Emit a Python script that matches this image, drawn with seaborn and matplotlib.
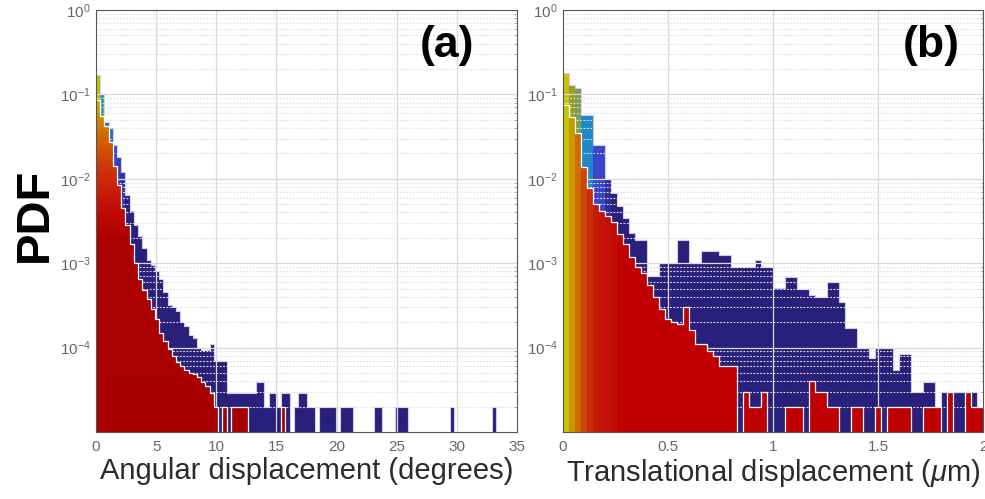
import numpy as np
import pandas as pd
import matplotlib
matplotlib.use("Agg")
import matplotlib.pyplot as plt
from matplotlib.colors import LinearSegmentedColormap, LogNorm
from matplotlib.ticker import LogLocator, NullFormatter
import seaborn as sns

# ---------------------------------------------------------------------------
# Binned PDFs (values are PDF heights per bin)
# ---------------------------------------------------------------------------
# (a) angular displacement, 100 bins on [0, 35] degrees
ang_range = (0.0, 35.0)
ang_nbins = 100
ang_all = [
    0.17, 0.10, 0.047, 0.040, 0.025, 0.018, 0.012, 0.0064, 0.0042, 0.0028,
    0.0021, 0.0015, 0.0011, 9.5e-4, 8.0e-4, 6.5e-4, 4.6e-4, 3.2e-4, 3.0e-4, 2.7e-4,
    2.0e-4, 1.8e-4, 1.4e-4, 1.3e-4, 1.0e-4, 9.3e-5, 9.3e-5, 1.1e-4, 7.0e-5, 7.0e-5,
    7.0e-5, 2.9e-5, 2.9e-5, 2.9e-5, 2.9e-5, 2.9e-5, 2.9e-5, 2.9e-5, 3.9e-5, 3.9e-5,
    2.0e-5, 2.9e-5, 2.9e-5, 2.0e-5, 2.9e-5, 2.9e-5, 0, 2.0e-5, 2.9e-5, 2.9e-5,
    2.0e-5, 2.0e-5, 0, 2.0e-5, 2.0e-5, 2.0e-5, 2.0e-5, 0, 2.0e-5, 2.0e-5,
    2.0e-5, 0, 0, 0, 0, 0, 2.0e-5, 2.0e-5, 0, 0,
    0, 2.0e-5, 2.0e-5, 2.0e-5, 0, 0, 0, 0, 0, 0,
    0, 0, 0, 0, 2.0e-5, 0, 0, 0, 0, 0,
    0, 0, 0, 0, 2.0e-5, 0, 0, 0, 0, 0,
]
ang_sub = [
    0.085, 0.055, 0.042, 0.027, 0.014, 0.0085, 0.0045, 0.0028, 0.0017, 0.0010,
    6.5e-4, 4.8e-4, 3.8e-4, 2.9e-4, 2.2e-4, 1.5e-4, 1.2e-4, 9.5e-5, 8.0e-5, 6.8e-5,
    6.0e-5, 5.5e-5, 5.0e-5, 4.9e-5, 4.5e-5, 3.9e-5, 3.5e-5, 2.9e-5, 2.0e-5, 0,
    2.0e-5, 0, 2.0e-5, 2.0e-5, 2.0e-5, 2.0e-5, 0, 0, 0, 0,
    0, 0, 0, 0, 2.0e-5, 0, 0, 0, 0, 0,
    0, 0, 0, 0, 0, 0, 0, 0, 0, 0,
    0, 0, 0, 0, 0, 0, 0, 0, 0, 0,
    0, 0, 0, 0, 0, 0, 0, 0, 0, 0,
    0, 0, 0, 0, 0, 0, 0, 0, 0, 0,
    0, 0, 0, 0, 0, 0, 0, 0, 0, 0,
]

# (b) translational displacement, 70 bins on [0, 2] micrometres
tr_range = (0.0, 2.0)
tr_nbins = 70
tr_all = [
    0.18, 0.13, 0.12, 0.057, 0.057, 0.025, 0.025, 0.0100, 0.0068, 0.0048,
    0.0034, 0.0023, 0.0019, 0.0019, 7.0e-4, 7.0e-4, 1.0e-3, 1.0e-3, 1.0e-3, 1.9e-3,
    1.9e-3, 1.0e-3, 1.0e-3, 1.4e-3, 1.4e-3, 1.4e-3, 1.25e-3, 1.25e-3, 9.0e-4, 9.0e-4,
    9.0e-4, 9.0e-4, 1.1e-3, 9.0e-4, 9.0e-4, 5.1e-4, 5.1e-4, 6.9e-4, 6.9e-4, 5.0e-4,
    5.0e-4, 4.2e-4, 4.0e-4, 4.0e-4, 6.0e-4, 6.0e-4, 3.5e-4, 1.7e-4, 1.7e-4, 1.0e-4,
    1.0e-4, 7.5e-5, 1.0e-4, 1.0e-4, 1.0e-4, 5.5e-5, 8.5e-5, 8.5e-5, 3.0e-5, 3.0e-5,
    3.9e-5, 3.9e-5, 2.0e-5, 3.0e-5, 3.0e-5, 3.0e-5, 3.0e-5, 3.0e-5, 3.0e-5, 2.0e-5,
]
tr_sub = [
    0.075, 0.054, 0.035, 0.0137, 0.0077, 0.0050, 0.0042, 0.0036, 0.0031, 0.0022,
    0.0017, 0.0012, 8.9e-4, 7.6e-4, 5.5e-4, 4.0e-4, 2.9e-4, 2.2e-4, 2.0e-4, 1.9e-4,
    3.0e-4, 1.6e-4, 1.1e-4, 1.1e-4, 9.0e-5, 8.0e-5, 6.0e-5, 6.0e-5, 6.0e-5, 0,
    3.0e-5, 2.0e-5, 2.0e-5, 3.0e-5, 0, 0, 0, 2.0e-5, 2.0e-5, 2.0e-5,
    0, 4.0e-5, 3.0e-5, 3.0e-5, 2.0e-5, 2.0e-5, 0, 0, 2.0e-5, 2.0e-5,
    0, 0, 2.0e-5, 0, 2.0e-5, 2.0e-5, 2.0e-5, 2.0e-5, 0, 0,
    2.0e-5, 2.0e-5, 2.0e-5, 0, 3.0e-5, 0, 0, 3.0e-5, 2.0e-5, 2.0e-5,
]

ang_xticks = [0, 5, 10, 15, 20, 25, 30, 35]
tr_xticks = [0, 0.5, 1, 1.5, 2]
tr_xticklabels = ["0", "0.5", "1", "1.5", "2"]
y_ticks = [1e-4, 1e-3, 1e-2, 1e-1, 1e0]
y_ticklabels = [r"$10^{-4}$", r"$10^{-3}$", r"$10^{-2}$", r"$10^{-1}$", r"$10^{0}$"]
y_lim = (1e-5, 1.0)

# ---------------------------------------------------------------------------
# Style
# ---------------------------------------------------------------------------
sns.set_theme(style="white")
plt.rcParams["font.family"] = ["Liberation Sans", "DejaVu Sans"]
plt.rcParams["mathtext.fontset"] = "custom"
plt.rcParams["mathtext.rm"] = "Liberation Sans"
plt.rcParams["mathtext.it"] = "Liberation Sans:italic"
plt.rcParams["mathtext.bf"] = "Liberation Sans:bold"

# colour maps: back histogram (navy -> blue -> teal -> yellow),
# front histogram (dark red -> orange -> yellow)
back_cmap = LinearSegmentedColormap.from_list(
    "back", [(0.0, "#2b1f7c"), (0.07, "#2f2c9a"), (0.37, "#3a45c8"),
             (0.63, "#1f88c6"), (0.80, "#2a9fa6"), (0.90, "#9c9c2a"),
             (1.0, "#c9c200")])
back_norm = LogNorm(vmin=0.008, vmax=0.18, clip=True)

front_cmap_b = LinearSegmentedColormap.from_list(
    "front_b", [(0.0, "#c00000"), (0.2, "#c41408"), (0.4, "#cc2e08"),
                (0.55, "#d04808"), (0.8, "#d06c00"), (0.92, "#c89a00"),
                (1.0, "#c4c400")])
front_norm_b = LogNorm(vmin=2e-3, vmax=0.075, clip=True)

# vertical gradient for panel (a): axes fraction = (log10(y) + 5) / 5
front_cmap_a = LinearSegmentedColormap.from_list(
    "front_a", [(0.0, "#a80000"), (0.46, "#ac0000"), (0.54, "#c41008"),
                (0.635, "#d03a08"), (0.71, "#d06c00"), (0.77, "#c8a400"),
                (0.82, "#c0bc00"), (1.0, "#c0bc00")])

W, H = 985, 499
fig = plt.figure(figsize=(W / 100, H / 100), dpi=100)
ax_a = fig.add_axes([96 / W, 1 - 432 / H, (517 - 96) / W, (432 - 10) / H])
ax_b = fig.add_axes([563 / W, 1 - 432 / H, (983 - 563) / W, (432 - 10) / H])


def draw_panel(ax, rng, nbins, back_vals, front_vals, gradient_front):
    width = (rng[1] - rng[0]) / nbins
    centers = rng[0] + width * (np.arange(nbins) + 0.5)
    df = pd.DataFrame({"pos": centers, "back": back_vals, "front": front_vals})
    hist_kws = dict(data=df, x="pos", bins=nbins, binrange=rng, ax=ax)

    # back histogram, each bar coloured by its height
    sns.histplot(weights="back", element="bars", fill=True, alpha=1,
                 linewidth=0, zorder=1, **hist_kws)
    for bar, v in zip(ax.containers[-1], back_vals):
        bar.set_facecolor(back_cmap(back_norm(max(v, 1e-9))))
        bar.set_edgecolor("none")
    sns.histplot(weights="back", element="step", fill=False, color="#cfcdea",
                 linewidth=0.8, zorder=1.2, **hist_kws)

    # front histogram
    if gradient_front:
        sns.histplot(weights="front", element="step", fill=True, alpha=1,
                     linewidth=0, color="#a80000", zorder=3, **hist_kws)
        shape = ax.collections[-1]
        grad = np.linspace(0, 1, 500).reshape(-1, 1)
        im = ax.imshow(grad, extent=(0, 1, 0, 1), transform=ax.transAxes,
                       origin="lower", aspect="auto", cmap=front_cmap_a,
                       interpolation="bilinear", zorder=3.1)
        im.set_clip_path(shape.get_paths()[0], shape.get_transform())
    else:
        sns.histplot(weights="front", element="bars", fill=True, alpha=1,
                     linewidth=0, zorder=3, **hist_kws)
        for bar, v in zip(ax.containers[-1], front_vals):
            bar.set_facecolor(front_cmap_b(front_norm_b(max(v, 1e-9))))
            bar.set_edgecolor("none")
    sns.histplot(weights="front", element="step", fill=False, color="white",
                 linewidth=0.9, zorder=3.5, **hist_kws)

    ax.set_yscale("log")
    ax.set_xlim(rng)
    ax.set_ylim(y_lim)


draw_panel(ax_a, ang_range, ang_nbins, ang_all, ang_sub, True)
draw_panel(ax_b, tr_range, tr_nbins, tr_all, tr_sub, False)

for ax, xt in ((ax_a, ang_xticks), (ax_b, tr_xticks)):
    # grid: drawn above the back histogram, below the front one
    for y in [1e-4, 1e-3, 1e-2, 1e-1]:
        ax.axhline(y, color="#dadada", lw=0.9, zorder=2)
    for k in range(-5, 0):
        for m in range(2, 10):
            ax.axhline(m * 10.0 ** k, color="#e2e2e2", lw=0.8,
                       ls=(0, (1.6, 1.4)), zorder=2)
    for x in xt[1:-1]:
        ax.axvline(x, color="#dadada", lw=0.9, zorder=2)

    ax.set_ylabel("")
    ax.set_yticks(y_ticks)
    ax.set_yticklabels(y_ticklabels)
    ax.yaxis.set_minor_locator(LogLocator(base=10, subs=np.arange(2, 10)))
    ax.yaxis.set_minor_formatter(NullFormatter())
    ax.set_xticks(xt)
    ax.tick_params(axis="both", which="major", direction="in", length=4,
                   width=0.6, color="#444444", labelcolor="#666666",
                   labelsize=11, top=True, right=True)
    ax.tick_params(axis="x", pad=6)
    ax.tick_params(axis="y", pad=4)
    ax.tick_params(axis="y", which="minor", direction="in", length=2,
                   width=0.5, color="#777777", right=True)
    for s in ax.spines.values():
        s.set_color("#555555")
        s.set_linewidth(0.8)
        s.set_zorder(5)
    ax.set_facecolor("white")

ax_b.set_xticklabels(tr_xticklabels)
ax_a.set_xlabel("Angular displacement (degrees)", fontsize=21,
                color="#2b2b2b", labelpad=2)
ax_b.set_xlabel(r"Translational displacement ($\mu$m)", fontsize=21,
                color="#2b2b2b", labelpad=2)

fig.text(35 / W, 1 - 215 / H, "PDF", rotation=90, fontsize=34,
         fontweight="bold", ha="center", va="center", color="black")
fig.text(447 / W, 1 - 45 / H, "(a)", fontsize=32, fontweight="bold",
         ha="center", va="center", color="black")
fig.text(931 / W, 1 - 45 / H, "(b)", fontsize=32, fontweight="bold",
         ha="center", va="center", color="black")

fig.savefig("out.png", dpi=100)
